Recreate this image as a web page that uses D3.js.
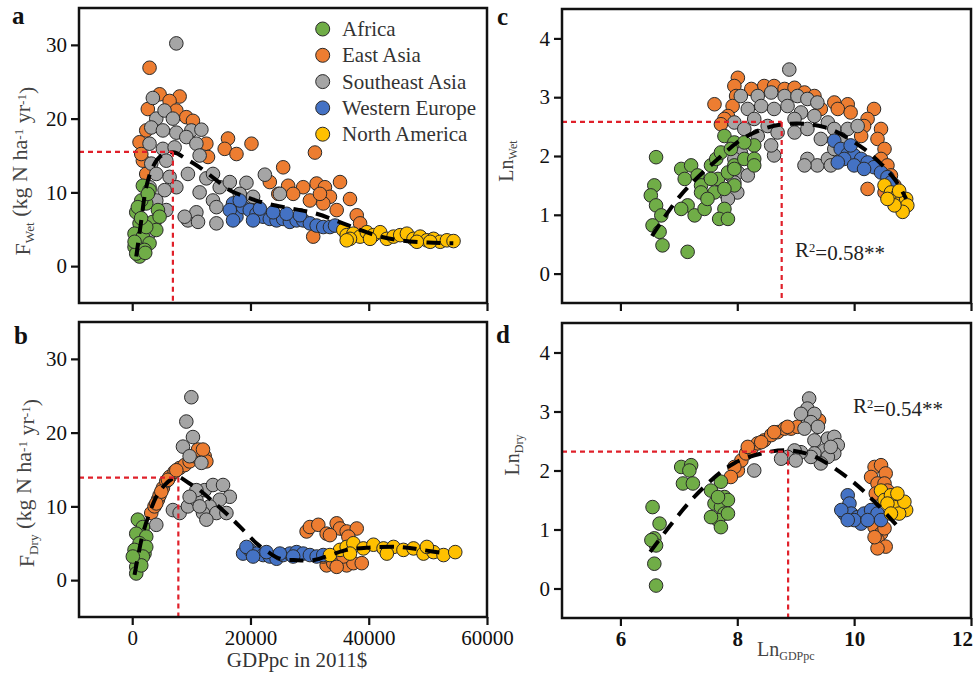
<!DOCTYPE html>
<html>
<head>
<meta charset="utf-8">
<script src="https://cdn.jsdelivr.net/npm/d3@7"></script>
<style>
  body { margin: 0; background: #fff; }
  svg { display: block; }
  svg text { font-family: "Liberation Serif", "DejaVu Serif", serif; }
</style>
</head>
<body>
<div id="chart"></div>
<script>
// region names + colours (legend order)
const regions = ["Africa", "East Asia", "Southeast Asia", "Western Europe", "North America"];
const regionColors = ["#70ad47", "#ed7d31", "#a5a5a5", "#4472c4", "#ffc000"];
// draw order: East Asia, Southeast Asia, Africa, Western Europe, North America
const drawOrder = [1, 2, 0, 3, 4];

// ---- panel a : F_Wet vs GDPpc ----
const wetAfrica = [[1800,10.9],[2930,10.3],[680,7.3],[2370,8.5],[4350,7.6],[1240,5.8],[3490,6],[390,4.4],[1800,4],[2930,3.1],[390,2.6],[1240,1.3],[680,1.7],[4070,4.9],[2370,5.3],[4630,6.7],[1530,8.9],[2640,9.8],[950,8],[400,3.3],[2080,2.2],[1500,6.5],[2200,1.8]];
const wetEastAsia = [[2930,26.9],[4630,23.3],[8020,23],[6320,22.4],[2640,21.3],[7460,21.1],[9150,20.2],[10270,19.7],[2370,18.4],[1240,16.8],[12540,16.6],[12820,14.8],[1800,14.3],[2370,12.5],[1530,15.2],[16200,17.3],[15640,15.9],[17630,15.2],[20170,16.6],[30900,15.4],[25530,13.4],[23270,11.4],[26370,10.9],[28920,10.7],[27220,9.8],[30050,8.9],[31190,11.2],[32590,10.7],[35140,11.4],[33440,9.4],[36830,9.1],[34580,7.6],[37970,6.9],[32310,8.5],[30610,4],[31750,9.8],[24700,9.8],[38540,5.8]];
const wetSEAsia = [[7460,30.2],[3490,22.8],[4070,20],[5470,21.1],[6880,20],[3220,18.8],[5190,18.4],[7460,18.1],[10000,18.4],[11700,18.5],[9150,17.5],[10850,16.6],[2930,16.6],[5190,15.9],[7170,16.1],[11400,15],[3220,13.9],[5760,14.3],[9420,12.5],[6320,12.1],[4070,12.5],[7460,10.7],[5470,10.3],[5760,7.6],[4070,8.9],[2930,10.7],[12540,11.9],[13660,12.5],[11400,10],[13660,8.9],[14800,10.7],[16500,11.4],[9420,6.2],[10850,7.3],[11130,6],[8870,6.7],[14240,5.8],[14240,8],[19320,11.3],[22430,12.4],[24970,9.8],[20440,9.4],[18190,9.8],[17050,8.2],[2930,4.5],[3770,6]];
const wetWEurope = [[17050,8.5],[17630,6.7],[18750,8],[19880,7.6],[21020,7.1],[22140,6.7],[23270,6.4],[24410,6.2],[25530,6.4],[26660,6],[27800,6.2],[28920,6.2],[30050,5.8],[31190,5.5],[32310,5.3],[33440,5.3],[34300,5.5],[28350,6.9],[26100,7.1],[23830,7.3],[21580,7.8],[18190,8.9],[20440,6.2],[16500,7.6],[17050,6.2]];
const wetNAmerica = [[35700,4.9],[36270,4.2],[37400,4.4],[38540,4],[39670,4.6],[40800,4.2],[41930,4.6],[43060,3.7],[44190,4],[45320,4.2],[46450,4.4],[47570,3.7],[48700,4],[49830,3.5],[50960,3.7],[52090,3.3],[53220,3.5],[54340,3.4],[36830,3.7],[40220,3.7],[48140,3.3],[50390,3.3],[36270,3.5]];
const wetFit = [[680,1.3],[1500,6],[2370,10.7],[3400,13.3],[4630,14.8],[5900,15.3],[7170,15.4],[9000,14.6],[11400,13.4],[14000,11.8],[16500,10.3],[19500,9.3],[22700,8.5],[27000,7.8],[31200,7.1],[35000,6],[38500,4.9],[42000,4],[45300,3.5],[50000,3.2],[54300,3.1]];
const wetPeak = [6880, 15.5];

// ---- panel b : F_Dry vs GDPpc ----
const dryAfrica = [[950,8.2],[1800,7.2],[680,6.3],[2370,5.9],[1240,5],[390,4.1],[2080,3.6],[950,2.7],[680,1.8],[680,0.9],[2370,4.5],[1800,3.2],[1530,2],[100,3.2]];
const dryEastAsia = [[3220,9.1],[3770,10],[4350,10.9],[4630,11.5],[5190,12.5],[5760,13.4],[6320,14],[7170,14.7],[8020,15.2],[8870,15.6],[9710,16.1],[10560,16.8],[11400,17.2],[12260,16.8],[12540,16.1],[4070,10.4],[4920,12],[6040,13.6],[7460,14.9],[11130,17.7],[11970,17.7],[29490,6.6],[30050,7.2],[31470,7.5],[32880,6.3],[34580,7.7],[35140,7],[36270,6.6],[37970,7],[33440,6.1],[36550,5.9],[32880,2],[34000,2.3],[35140,2.5],[36270,2],[37400,2.3],[38820,2.3],[32310,3.2],[35700,3.2],[34580,1.8]];
const drySEAsia = [[10000,24.8],[9150,21.5],[10270,19.4],[8580,18.1],[9710,16.8],[11700,15.9],[6880,9.5],[8020,9.1],[9420,10],[10850,10.9],[12260,12.2],[13660,12.9],[15360,12.9],[16500,11.3],[14800,10.9],[13100,10],[11970,9.1],[14240,9.1],[15930,9.1],[10850,12.2],[9710,11.3],[12540,8.2],[4070,7.5],[11400,10]];
const dryWEurope = [[18750,3.6],[19880,4.1],[21020,3.6],[22140,3.4],[23270,3.2],[24410,2.9],[25530,3.4],[26660,3.6],[27800,3.8],[28920,3.6],[30050,3.4],[31190,3.2],[32310,3.4],[19320,4.5],[20440,3.2],[22700,3.8],[24970,3.6],[27220,3.2]];
const dryNAmerica = [[35140,4.1],[36270,4.5],[37400,5],[39100,4.3],[40800,4.8],[42500,4.3],[44190,4.5],[45870,4.1],[47570,4.3],[49260,3.6],[50960,3.8],[52650,3.4],[54630,3.8],[36830,3.6],[43060,3.6],[49830,4.5],[33440,3.4]];
const dryFit = [[390,0.7],[1800,6.3],[2900,9],[4070,11.3],[5400,12.8],[6880,13.8],[7800,14],[9500,13.2],[11400,12.2],[14000,10.4],[16500,8.6],[19000,6.6],[21000,5],[23000,3.8],[25000,2.9],[28000,2.7],[30600,2.7],[33500,3.4],[36300,4.1],[40000,4.4],[45300,4.5],[49000,4.1],[53200,3.6]];
const dryPeak = [7800, 13.9];

// ---- panel c : Ln_Wet vs Ln_GDPpc ----
const lnWetAfrica = [[6.61,1.98],[6.58,1.5],[6.52,1.33],[6.61,1.16],[6.7,0.99],[6.55,0.82],[6.67,0.71],[6.72,0.48],[7.15,0.37],[7.04,1.78],[7.21,1.84],[7.1,1.61],[7.32,1.67],[7.38,1.5],[7.15,1.16],[7.27,0.99],[7.04,1.1],[7.55,1.84],[7.64,1.95],[7.72,2.06],[7.78,2.34],[7.95,2.23],[7.67,1.61],[7.84,1.72],[7.95,1.84],[8.12,1.95],[8.29,2.18],[8.29,1.95],[8.29,1.84],[7.95,1.78],[7.61,1.38],[7.78,1.1],[7.69,0.93],[7.84,0.93],[7.44,1.1],[7.38,1.38],[7.49,1.27],[7.95,1.5],[7.78,1.44],[7.55,1.61],[8.12,2.23],[7.89,2.12]];
const lnWetEastAsia = [[7.61,2.88],[8.01,3.33],[7.95,3.19],[7.98,3.02],[7.92,2.85],[7.84,2.68],[7.78,2.63],[7.72,2.54],[8.46,3.19],[8.63,3.19],[8.81,3.14],[8.98,3.16],[9.15,3.08],[9.32,3.02],[9.66,2.91],[9.89,2.88],[9.72,2.8],[9.94,2.74],[10.34,2.8],[10.23,2.63],[10.17,2.51],[10.46,2.46],[10.4,2.29],[10.52,2.12],[10.46,1.95],[10.57,1.84],[10.63,1.67],[10.69,1.5],[10.23,1.44],[10.52,1.38],[10.63,1.27],[10.12,2.34],[9.43,2.8],[8.24,3.14]];
const lnWetSEAsia = [[8.89,3.47],[8.06,3.02],[8.35,3.02],[8.58,3.08],[8.81,3.02],[9.03,3.02],[9.2,2.97],[9.37,2.91],[8.18,2.8],[8.41,2.85],[8.63,2.8],[8.86,2.85],[9.09,2.74],[9.32,2.68],[9.55,2.57],[9.66,2.46],[9.89,2.46],[10.06,2.51],[7.95,2.57],[8.12,2.46],[8.35,2.34],[8.52,2.51],[8.69,2.4],[8.98,2.4],[9.2,2.46],[9.43,2.29],[8.63,2.01],[8.58,2.18],[8.06,2.06],[7.95,1.95],[7.89,1.67],[7.78,1.38],[8.01,1.72],[9.2,1.95],[9.37,1.84],[9.15,1.84],[9.55,1.95],[9.66,2.12],[9.6,1.84],[9.77,2.29],[8.98,2.63],[8.29,2.63],[7.95,1.55],[8.18,1.67],[8.0,1.38],[7.84,1.27]];
const lnWetWEurope = [[9.66,2.26],[9.77,2.12],[9.89,2.03],[10.0,2.01],[10.12,1.95],[10.23,1.89],[10.34,1.81],[10.46,1.72],[10.57,1.64],[9.83,1.95],[10.0,1.84],[10.17,1.78],[9.72,1.89],[9.94,2.18],[10.63,1.55]];
const lnWetNAmerica = [[10.52,1.5],[10.63,1.38],[10.74,1.33],[10.8,1.22],[10.89,1.27],[10.91,1.16],[10.83,1.05],[10.69,1.16],[10.57,1.27],[10.77,1.41]];
const lnWetFit = [[6.54,0.64],[7.03,1.33],[7.6,1.89],[8.17,2.34],[8.79,2.54],[9.49,2.49],[10.17,2.12],[10.69,1.61],[10.89,1.27]];
const lnWetPeak = [8.76, 2.58];

// ---- panel d : Ln_Dry vs Ln_GDPpc ----
const lnDryAfrica = [[6.55,1.38],[6.67,1.1],[6.58,0.85],[6.61,0.73],[6.58,0.42],[6.61,0.05],[6.53,0.82],[7.04,2.06],[7.21,2.09],[7.18,2.0],[7.07,1.78],[7.24,1.78],[7.72,1.81],[7.55,1.66],[7.78,1.55],[7.61,1.44],[7.72,1.38],[7.78,1.27],[7.67,1.16],[7.72,1.04],[7.55,1.21],[7.84,1.5],[7.67,1.55],[7.84,1.27]];
const lnDryEastAsia = [[8.01,2.0],[8.07,2.17],[8.15,2.29],[8.24,2.37],[8.35,2.46],[8.46,2.51],[8.58,2.6],[8.69,2.65],[8.81,2.71],[8.92,2.71],[9.03,2.74],[9.32,2.8],[9.4,2.85],[8.18,2.4],[8.41,2.48],[7.95,2.06],[7.89,1.89],[8.63,2.65],[8.86,2.74],[10.35,2.06],[10.46,2.09],[10.54,1.95],[10.29,1.89],[10.4,1.78],[10.52,1.78],[10.37,1.61],[10.57,1.66],[10.35,1.04],[10.46,0.93],[10.4,0.82],[10.54,0.71],[10.4,0.68],[10.52,1.02],[10.35,0.87]];
const lnDrySEAsia = [[9.23,3.22],[9.2,3.05],[9.32,2.96],[9.09,2.96],[9.26,2.82],[9.38,2.74],[9.15,2.71],[9.55,2.54],[9.66,2.57],[9.72,2.43],[9.66,2.29],[9.49,2.34],[9.32,2.51],[9.32,2.29],[9.55,2.23],[9.43,2.12],[9.26,2.23],[9.09,2.31],[8.98,2.34],[8.86,2.23],[9.0,2.17],[8.75,2.2],[9.6,2.4],[8.29,2.0]];
const lnDryWEurope = [[9.89,1.58],[9.92,1.44],[9.83,1.27],[9.95,1.27],[10.06,1.21],[10.17,1.27],[10.29,1.33],[10.4,1.27],[10.46,1.16],[10.12,1.1],[10.0,1.16],[9.78,1.33],[10.23,1.16],[9.89,1.16]];
const lnDryNAmerica = [[10.46,1.66],[10.52,1.5],[10.63,1.58],[10.74,1.5],[10.8,1.38],[10.89,1.33],[10.69,1.38],[10.57,1.44],[10.77,1.27],[10.63,1.27],[10.86,1.47],[10.74,1.61]];
const lnDryFit = [[6.51,0.62],[7.26,1.55],[7.94,2.12],[8.57,2.32],[8.9,2.34],[9.31,2.24],[9.94,1.84],[10.4,1.42],[10.8,0.99]];
const lnDryPeak = [8.87, 2.32];

const W = 974, H = 675;
const svg = d3.select("#chart").append("svg").attr("width", W).attr("height", H);

function drawPanel(p) {
  const x = d3.scaleLinear().domain(p.xDomain).range([p.left, p.right]);
  const y = d3.scaleLinear().domain(p.yDomain).range([p.bottom, p.top]);
  const g = svg.append("g");

  // axes (ticks outside, frame drawn separately)
  const ya = g.append("g").attr("transform", `translate(${p.left},0)`)
    .call(d3.axisLeft(y).tickValues(p.yTicks).tickSize(8).tickPadding(4).tickFormat(d3.format("d")));
  const xa = g.append("g").attr("transform", `translate(0,${p.bottom})`)
    .call(d3.axisBottom(x).tickValues(p.xTicks).tickSize(8).tickPadding(5)
      .tickFormat(p.showX ? d3.format("d") : () => ""));
  [ya, xa].forEach(a => {
    a.attr("font-family", null);
    a.select(".domain").remove();
    a.selectAll("line").attr("stroke", "#111").attr("stroke-width", 2.2);
    a.selectAll("text").attr("fill", "#111").style("font-size", "21px");
  });
  if (p.boldX) xa.selectAll("text").style("font-weight", "bold");
  // last x label sits against the page edge
  if (p.lastXShift) xa.selectAll("text").filter(d => d === p.xTicks[p.xTicks.length - 1])
    .attr("dx", p.lastXShift);

  // points
  drawOrder.forEach(i => {
    g.append("g").selectAll("circle").data(p.series[i]).join("circle")
      .attr("cx", d => x(d[0])).attr("cy", d => y(d[1])).attr("r", 6.8)
      .attr("fill", regionColors[i]).attr("stroke", "#2a2a2a").attr("stroke-width", 1);
  });

  // fit curve
  g.append("path").datum(p.fit)
    .attr("d", d3.line().x(d => x(d[0])).y(d => y(d[1])).curve(d3.curveCatmullRom))
    .attr("fill", "none").attr("stroke", "#000").attr("stroke-width", 4)
    .attr("stroke-dasharray", "14,9");

  // peak reference lines
  const red = "#e0202a";
  g.append("line").attr("x1", x(p.xDomain[0])).attr("x2", x(p.peak[0]))
    .attr("y1", y(p.peak[1])).attr("y2", y(p.peak[1]))
    .attr("stroke", red).attr("stroke-width", 2.2).attr("stroke-dasharray", "5,4");
  g.append("line").attr("x1", x(p.peak[0])).attr("x2", x(p.peak[0]))
    .attr("y1", y(p.peak[1])).attr("y2", y(p.yDomain[0]))
    .attr("stroke", red).attr("stroke-width", 2.2).attr("stroke-dasharray", "5,4");

  // frame
  g.append("rect").attr("x", p.left).attr("y", p.top)
    .attr("width", p.right - p.left).attr("height", p.bottom - p.top)
    .attr("fill", "none").attr("stroke", "#111").attr("stroke-width", 2.5);

  // panel letter
  svg.append("text").attr("x", p.letterX).attr("y", p.letterY)
    .style("font-size", "25px").style("font-weight", "bold").attr("fill", "#111")
    .text(p.letter);
  return { x, y };
}

function sub(t, main, subTxt, rest) {
  t.append("tspan").text(main);
  t.append("tspan").attr("dy", "0.3em").style("font-size", "0.6em").text(subTxt);
  if (rest) rest(t);
}

// panel a
drawPanel({
  left: 79, right: 487, top: 8, bottom: 303,
  xDomain: [-9000, 60000], yDomain: [-5, 35],
  xTicks: [0, 20000, 40000, 60000], yTicks: [0, 10, 20, 30], showX: false,
  series: [wetAfrica, wetEastAsia, wetSEAsia, wetWEurope, wetNAmerica],
  fit: wetFit, peak: wetPeak, letter: "a", letterX: 12, letterY: 24
});
// panel b
drawPanel({
  left: 79, right: 487, top: 322, bottom: 617,
  xDomain: [-9000, 60000], yDomain: [-5, 35],
  xTicks: [0, 20000, 40000, 60000], yTicks: [0, 10, 20, 30], showX: true,
  series: [dryAfrica, dryEastAsia, drySEAsia, dryWEurope, dryNAmerica],
  fit: dryFit, peak: dryPeak, letter: "b", letterX: 14, letterY: 344
});
// panel c
drawPanel({
  left: 562, right: 971, top: 9, bottom: 303,
  xDomain: [5, 12], yDomain: [-0.5, 4.5],
  xTicks: [6, 8, 10, 12], yTicks: [0, 1, 2, 3, 4], showX: false,
  series: [lnWetAfrica, lnWetEastAsia, lnWetSEAsia, lnWetWEurope, lnWetNAmerica],
  fit: lnWetFit, peak: lnWetPeak, letter: "c", letterX: 497, letterY: 25
});
// panel d
drawPanel({
  left: 562, right: 971, top: 323, bottom: 618,
  xDomain: [5, 12], yDomain: [-0.5, 4.5],
  xTicks: [6, 8, 10, 12], yTicks: [0, 1, 2, 3, 4], showX: true, boldX: true, lastXShift: -9,
  series: [lnDryAfrica, lnDryEastAsia, lnDrySEAsia, lnDryWEurope, lnDryNAmerica],
  fit: lnDryFit, peak: lnDryPeak, letter: "d", letterX: 496, letterY: 343
});

// legend (inside panel a)
const leg = svg.append("g");
regions.forEach((r, i) => {
  const cy = 29 + i * 26.3;
  leg.append("circle").attr("cx", 322.7).attr("cy", cy).attr("r", 7)
    .attr("fill", regionColors[i]).attr("stroke", "#2a2a2a").attr("stroke-width", 1);
  leg.append("text").attr("x", 342).attr("y", cy + 7).attr("fill", "#333")
    .style("font-size", "21px").text(r);
});

// axis titles
const supMinus1 = t => {
  t.append("tspan").attr("dy", "-0.3em").text(" (kg N ha");
  t.append("tspan").attr("dy", "-0.35em").style("font-size", "0.6em").text("-1");
  t.append("tspan").attr("dy", "0.35em").text(" yr");
  t.append("tspan").attr("dy", "-0.35em").style("font-size", "0.6em").text("-1");
  t.append("tspan").attr("dy", "0.35em").text(")");
};
const ta = svg.append("text").attr("transform", "translate(30,171) rotate(-90)")
  .attr("text-anchor", "middle").attr("fill", "#444").style("font-size", "22px");
sub(ta, "F", "Wet", supMinus1);
const tb = svg.append("text").attr("transform", "translate(34,483) rotate(-90)")
  .attr("text-anchor", "middle").attr("fill", "#444").style("font-size", "22px");
sub(tb, "F", "Dry", supMinus1);
const tc = svg.append("text").attr("transform", "translate(513,161) rotate(-90)")
  .attr("text-anchor", "middle").attr("fill", "#444").style("font-size", "20px");
sub(tc, "Ln", "Wet");
const td = svg.append("text").attr("transform", "translate(519,455) rotate(-90)")
  .attr("text-anchor", "middle").attr("fill", "#444").style("font-size", "20px");
sub(td, "Ln", "Dry");
const tx = svg.append("text").attr("x", 757).attr("y", 656)
  .attr("fill", "#444").style("font-size", "20px");
sub(tx, "Ln", "GDPpc");
svg.append("text").attr("x", 297).attr("y", 667).attr("text-anchor", "middle")
  .attr("fill", "#333").style("font-size", "21px").text("GDPpc in 2011$");

// R² annotations
function r2(xp, yp, val) {
  const t = svg.append("text").attr("x", xp).attr("y", yp).attr("fill", "#222")
    .style("font-size", "21px");
  t.append("tspan").text("R");
  t.append("tspan").attr("dy", "-0.4em").style("font-size", "0.6em").text("2");
  t.append("tspan").attr("dy", "0.4em").text("=" + val + "**");
}
r2(795, 257, "0.58");
r2(853, 413, "0.54");
</script>
</body>
</html>
